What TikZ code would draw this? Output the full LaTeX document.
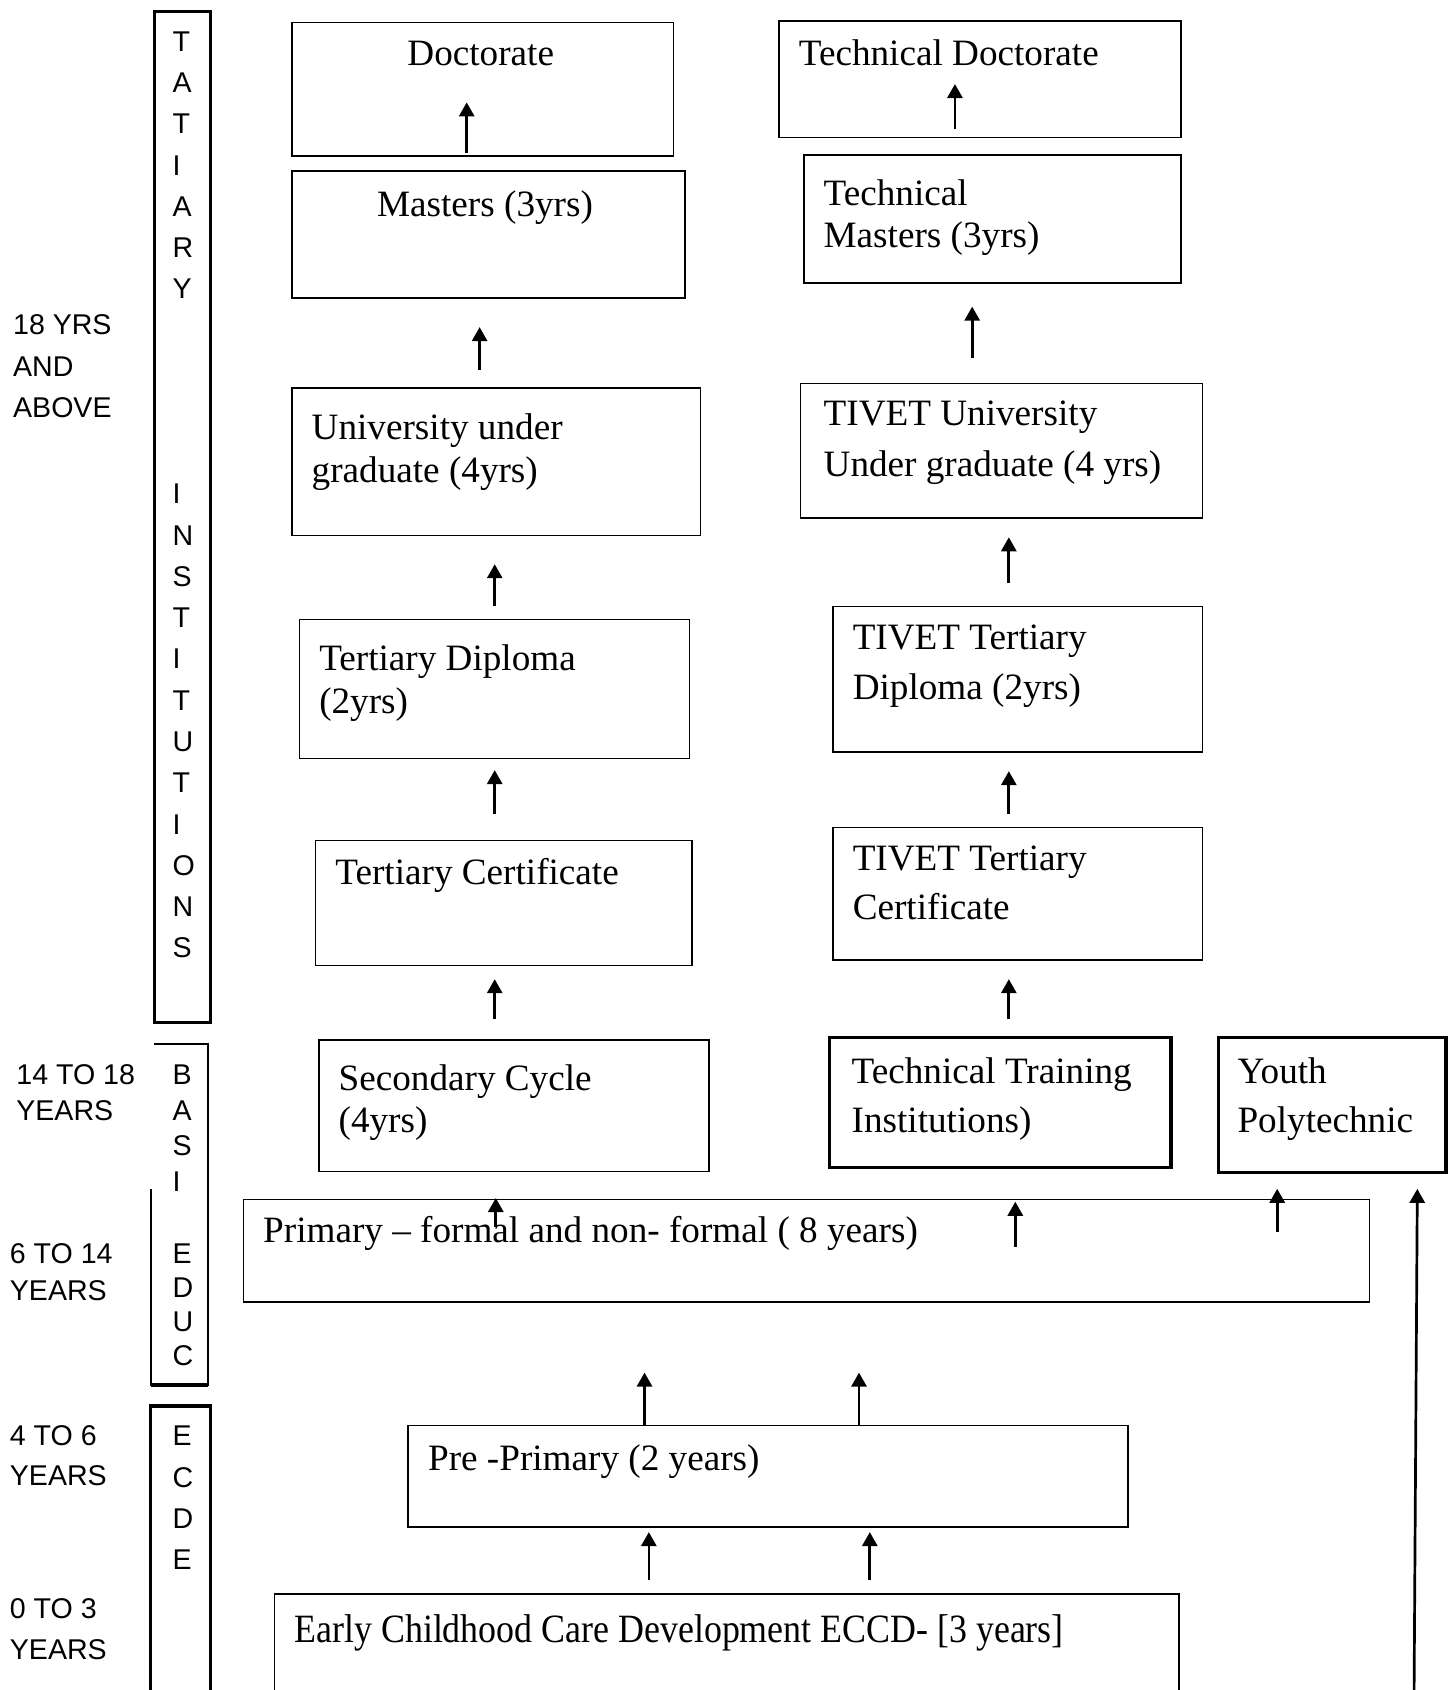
\documentclass[tikz,border=0pt]{standalone}
\usepackage{fontspec}
\usepackage{graphicx}
\setmainfont{Liberation Serif}
\newfontfamily\arialf{Liberation Sans}
\usetikzlibrary{arrows.meta,calc}
\newcommand\twolines[3]{\vtop{\baselineskip=#1pt\hbox{#2}\hbox{#3}}}
\begin{document}
\begin{tikzpicture}[x=1pt,y=-1pt,
  box/.style={draw,line width=1.5pt,inner sep=0pt,anchor=north west},
  thickbox/.style={draw,line width=3pt,inner sep=0pt,anchor=north west},
  txt/.style={inner sep=0pt,anchor=base west,font=\fontsize{34.5}{40}\selectfont},
  ctxt/.style={txt,anchor=base},
  agelbl/.style={inner sep=0pt,anchor=base west,font=\arialf\fontsize{26.5}{30}\selectfont},
  arr/.style={line width=2.5pt,-{Triangle[width=14pt,length=13pt]}},
]
\useasboundingbox (0,0) rectangle (1346,1568);
\clip (0,0) rectangle (1346,1568);

% ---------- side bars ----------
\node[thickbox,minimum width=52pt,minimum height=938pt] (tat) at (142,9) {};
\node[thickbox,minimum width=56pt,minimum height=320pt] (ecde) at (138,1303) {};
\draw[line width=2pt] (140,1103) coordinate (bas2) -- (140,1285) -- (193,1285) -- (193,969) -- (143,969) coordinate (bas1);
\draw[line width=3pt] (140,1285) -- (193,1285);

\node[agelbl] (tatl) at (160,47.5) {\vtop{\baselineskip=38.3pt\hbox{T}\hbox{A}\hbox{T}\hbox{I}\hbox{A}\hbox{R}\hbox{Y}}};
\node[agelbl] (insl) at (160,467.5) {\vtop{\baselineskip=38.3pt\hbox{I}\hbox{N}\hbox{S}\hbox{T}\hbox{I}\hbox{T}\hbox{U}\hbox{T}\hbox{I}\hbox{O}\hbox{N}\hbox{S}}};
\node[agelbl] (basl) at (160,1006.5) {\vtop{\baselineskip=33pt\hbox{B}\hbox{A}\hbox{S}\hbox{I}}};
\node[agelbl] (edul) at (160,1172.5) {\vtop{\baselineskip=31.5pt\hbox{E}\hbox{D}\hbox{U}\hbox{C}}};
\node[agelbl] (ecdl) at (160,1341.5) {\vtop{\baselineskip=38.3pt\hbox{E}\hbox{C}\hbox{D}\hbox{E}}};

% ---------- age labels ----------
\node[agelbl] (age18) at (12,310.5) {\vtop{\baselineskip=38.5pt\hbox{18 YRS}\hbox{AND}\hbox{ABOVE}}};
\node[agelbl] (age14) at (15,1006.5) {\twolines{33}{14 TO 18}{YEARS}};
\node[agelbl] (age6) at (9,1172.5) {\twolines{34}{6 TO 14}{YEARS}};
\node[agelbl] (age4) at (9,1341.5) {\twolines{37}{4 TO 6}{YEARS}};
\node[agelbl] (age0) at (9,1501.5) {\twolines{38}{0 TO 3}{YEARS}};

% ---------- left column ----------
\node[box,minimum width=354pt,minimum height=124pt] (doc) at (270,20) {};
\node[box,minimum width=365pt,minimum height=118pt] (mas) at (270,158) {};
\node[box,minimum width=379pt,minimum height=137pt] (uni) at (270,359) {};
\node[box,minimum width=362pt,minimum height=129pt] (tdip) at (277,574) {};
\node[box,minimum width=349pt,minimum height=116pt] (tcert) at (292,779) {};
\node[box,minimum width=362pt,minimum height=122pt] (sec) at (295,964) {};

\node[ctxt] (doct) at (446,61) {Doctorate};
\node[ctxt] (mast) at (450,201) {Masters (3yrs)};
\node[txt] (unit) at (289,408) {\twolines{40}{University under}{graduate (4yrs)}};
\node[txt] (tdipt) at (296,622) {\twolines{40}{Tertiary Diploma}{(2yrs)}};
\node[txt] (tcertt) at (311,821) {Tertiary Certificate};
\node[txt] (sect) at (314,1012) {\twolines{39}{Secondary Cycle}{(4yrs)}};

% ---------- right column ----------
\node[box,minimum width=373pt,minimum height=108pt] (tdoc) at (722,19) {};
\node[box,minimum width=350pt,minimum height=119pt] (tmas) at (745,143) {};
\node[box,minimum width=373pt,minimum height=125pt] (tuni) at (742,355) {};
\node[box,minimum width=343pt,minimum height=135pt] (tvdip) at (772,562) {};
\node[box,minimum width=343pt,minimum height=123pt] (tvcert) at (772,767) {};
\node[thickbox,minimum width=317pt,minimum height=121pt] (tti) at (768,961) {};
\node[thickbox,minimum width=211pt,minimum height=125pt] (yp) at (1129,961) {};

\node[txt] (tdoct) at (741,61) {Technical Doctorate};
\node[txt] (tmast) at (764,191) {\twolines{39}{Technical}{Masters (3yrs)}};
\node[txt] (tunit) at (764,395) {\twolines{47}{TIVET University}{Under graduate (4 yrs)}};
\node[txt] (tvdipt) at (791,603) {\twolines{46}{TIVET Tertiary}{Diploma (2yrs)}};
\node[txt] (tvcertt) at (791,808) {\twolines{45}{TIVET Tertiary}{Certificate}};
\node[txt] (ttit) at (790,1005) {\twolines{46}{Technical Training}{Institutions)}};
\node[txt] (ypt) at (1148,1005) {\twolines{46}{Youth}{Polytechnic}};

% ---------- lower part ----------
\node[box,minimum width=1045pt,minimum height=95pt] (prim) at (225,1112) {};
\node[box,minimum width=668pt,minimum height=94pt] (pre) at (378,1322) {};
\node[box,minimum width=839pt,minimum height=200pt] (eccd) at (254,1478) {};

\node[txt] (primt) at (244,1153) {Primary – formal and non- formal ( 8 years)};
\node[txt] (pret) at (397,1364) {Pre -Primary (2 years)};
\node[txt] (eccdt) at (273,1524) {\scalebox{0.965}[1.08]{Early Childhood Care Development ECCD- [3 years]}};

% ---------- arrows ----------
\draw[arr] ($(mas.north west)+(163,-16)$) -- ($(doc.north west)+(163,75)$);
\draw[arr] ($(uni.north west)+(175,-16)$) -- ($(mas.south west)+(175,26)$);
\draw[arr] ($(tdip.north west)+(182,-12)$) -- ($(uni.south west)+(189,26)$);
\draw[arr] ($(tcert.north west)+(167,-24)$) -- ($(tdip.south west)+(182,10)$);
\draw[arr] ($(sec.north west)+(164,-19)$) -- ($(tcert.south west)+(167,12)$);

\draw[arr] ($(tmas.north west)+(141,-23)$) -- ($(tdoc.north west)+(164,59)$);
\draw[arr] ($(tuni.north west)+(160,-23)$) -- ($(tmas.south west)+(157,21)$);
\draw[arr] ($(tvdip.north west)+(164,-21)$) -- ($(tuni.south west)+(194,17)$);
\draw[arr] ($(tvcert.north west)+(164,-12)$) -- ($(tvdip.south west)+(164,17)$);
\draw[arr] ($(tti.north west)+(168,-16)$) -- ($(tvcert.south west)+(164,17)$);

\draw[arr] ($(prim.north west)+(235,26)$) -- ($(sec.south west)+(165,24)$);
\draw[arr] ($(prim.north west)+(717,45)$) -- ($(tti.south west)+(174,30)$);
\draw[arr] ($(prim.north west)+(960,31)$) -- ($(yp.south west)+(56,14)$);
\coordinate (ypfoot) at (1312,1568);
\draw[arr] (ypfoot) -- ($(yp.south east)+(-28,14)$);

\draw[arr] ($(pre.north west)+(220,0)$) -- ($(prim.south west)+(373,65)$);
\draw[arr] ($(pre.north west)+(419,0)$) -- ($(prim.south west)+(572,65)$);
\draw[arr] ($(eccd.north west)+(348,-12)$) -- ($(pre.south west)+(224,4)$);
\draw[arr] ($(eccd.north west)+(553,-12)$) -- ($(pre.south west)+(429,4)$);
\end{tikzpicture}
\end{document}
